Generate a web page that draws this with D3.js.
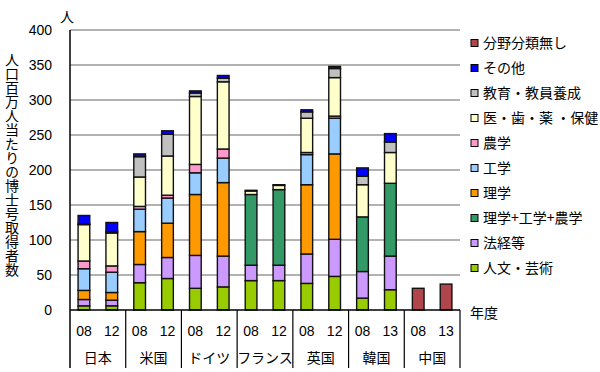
<!DOCTYPE html>
<html>
<head>
<meta charset="utf-8">
<script src="https://cdn.jsdelivr.net/npm/d3@7"></script>
<style>
  body { margin: 0; background: #fff; }
  svg text { font-family: "Liberation Sans", "Noto Sans CJK JP", sans-serif; fill: #000; }
</style>
</head>
<body>
<svg id="container" width="600" height="372"></svg>
<script>
// data: one entry per bar (country x year), stacked bottom to top
var countries = ['日本', '米国', 'ドイツ', 'フランス', '英国', '韓国', '中国'];
var years = ['08', '12', '08', '12', '08', '12', '08', '12', '08', '12', '08', '13', '08', '13'];
var yTicks = [0, 50, 100, 150, 200, 250, 300, 350, 400];

var humanities  = [6, 6, 39, 45, 31, 33, 42, 42, 38, 48, 17, 29, 0, 0];   // 人文・芸術
var lawEcon     = [9, 8, 26, 30, 47, 44, 22, 22, 42, 53, 38, 48, 0, 0];   // 法経等
var sciEngAgr   = [0, 0, 0, 0, 0, 0, 101, 108, 0, 0, 78, 104, 0, 0];     // 理学+工学+農学
var science     = [13, 11, 47, 49, 87, 105, 0, 0, 99, 122, 0, 0, 0, 0];   // 理学
var engineering = [31, 29, 32, 36, 31, 35, 0, 0, 43, 51, 0, 0, 0, 0];     // 工学
var agriculture = [11, 9, 4, 4, 12, 13, 0, 0, 3, 3, 0, 0, 0, 0];          // 農学
var health      = [52, 47, 42, 56, 97, 96, 5, 6, 49, 55, 46, 44, 0, 0];   // 医・歯・薬・保健
var education   = [1, 2, 29, 31, 5, 5, 1, 1, 9, 13, 12, 15, 0, 0];        // 教育・教員養成
var other       = [12, 13, 4, 5, 3, 4, 0, 0, 3, 3, 12, 12, 0, 0];         // その他
var unclassified = [0, 0, 0, 0, 0, 0, 0, 0, 0, 0, 0, 0, 31, 37];          // 分野分類無し

var series = [
  {key: '人文・芸術', values: humanities, color: '#99cc00'},
  {key: '法経等', values: lawEcon, color: '#cc99ff'},
  {key: '理学+工学+農学', values: sciEngAgr, color: '#339966'},
  {key: '理学', values: science, color: '#ff9900'},
  {key: '工学', values: engineering, color: '#99ccff'},
  {key: '農学', values: agriculture, color: '#ff99cc'},
  {key: '医・歯・薬 ・保健', values: health, color: '#ffffcc'},
  {key: '教育・教員養成', values: education, color: '#c0c0c0'},
  {key: 'その他', values: other, color: '#0000ff'},
  {key: '分野分類無し', values: unclassified, color: '#b0464b'}
];

// build rows for d3.stack
var rows = years.map(function(yr, i){
  var r = {i: i};
  series.forEach(function(s){ r[s.key] = s.values[i]; });
  return r;
});

var svg = d3.select('#container');
var plotLeft = 70, plotRight = 460, plotTop = 30, plotBottom = 310;

var x = d3.scaleBand().domain(d3.range(years.length)).range([plotLeft, plotRight])
    .paddingInner(0.58).paddingOuter(0.29);
var y = d3.scaleLinear().domain([0, 400]).range([plotBottom, plotTop]);
var color = d3.scaleOrdinal(series.map(s => s.key), series.map(s => s.color));

var stacked = d3.stack().keys(series.map(s => s.key))(rows);

// gridlines
svg.append('g')
  .selectAll('line')
  .data(yTicks.slice(1))
  .enter().append('line')
    .attr('x1', plotLeft).attr('x2', plotRight)
    .attr('y1', d => y(d)).attr('y2', d => y(d))
    .attr('stroke', '#999').attr('stroke-width', 1.5);

// y tick labels
svg.append('g')
  .selectAll('text')
  .data(yTicks)
  .enter().append('text')
    .attr('x', 52).attr('y', d => y(d))
    .attr('dy', '0.36em')
    .attr('text-anchor', 'end')
    .style('font-size', '14px')
    .text(d => d);

// stacked bars
svg.append('g')
  .selectAll('g')
  .data(stacked)
  .enter().append('g')
    .attr('fill', d => color(d.key))
  .selectAll('rect')
  .data(d => d.filter(p => p[1] - p[0] > 0))
  .enter().append('rect')
    .attr('x', d => x(d.data.i))
    .attr('width', x.bandwidth())
    .attr('y', d => y(d[1]))
    .attr('height', d => y(d[0]) - y(d[1]))
    .attr('stroke', '#111').attr('stroke-width', 1.4);

// axes frame: y axis line, baseline, category separators
svg.append('line')
  .attr('x1', plotLeft).attr('x2', plotLeft).attr('y1', plotTop).attr('y2', 368)
  .attr('stroke', '#000').attr('stroke-width', 1.5);
svg.append('line')
  .attr('x1', plotLeft).attr('x2', plotRight).attr('y1', plotBottom).attr('y2', plotBottom)
  .attr('stroke', '#000').attr('stroke-width', 1.5);

var groupW = (plotRight - plotLeft) / countries.length;
svg.append('g')
  .selectAll('line')
  .data(d3.range(1, countries.length + 1))
  .enter().append('line')
    .attr('x1', d => plotLeft + d * groupW).attr('x2', d => plotLeft + d * groupW)
    .attr('y1', plotBottom).attr('y2', 368)
    .attr('stroke', '#000').attr('stroke-width', 1.2);

// year labels
svg.append('g')
  .selectAll('text')
  .data(years)
  .enter().append('text')
    .attr('x', (d, i) => x(i) + x.bandwidth() / 2)
    .attr('y', 331).attr('dy', '0.36em')
    .attr('text-anchor', 'middle')
    .style('font-size', '14px')
    .text(d => d);

// country labels
svg.append('g')
  .selectAll('text')
  .data(countries)
  .enter().append('text')
    .attr('x', (d, i) => plotLeft + (i + 0.5) * groupW)
    .attr('y', 358).attr('dy', '0.36em')
    .attr('text-anchor', 'middle')
    .style('font-size', '14px')
    .style('font-family', '"Noto Sans CJK JP", sans-serif')
    .text(d => d);

// unit and axis titles
svg.append('text')
  .attr('x', 67).attr('y', 17).attr('dy', '0.36em')
  .attr('text-anchor', 'middle')
  .style('font-size', '14px')
  .style('font-family', '"Noto Sans CJK JP", sans-serif')
  .text('人');

svg.append('text')
  .attr('x', 12).attr('y', 53)
  .style('writing-mode', 'vertical-rl')
  .style('text-orientation', 'upright')
  .style('font-size', '14px')
  .style('font-family', '"Noto Sans CJK JP", sans-serif')
  .text('人口百万人当たりの博士号取得者数');

svg.append('text')
  .attr('x', 470).attr('y', 313).attr('dy', '0.36em')
  .style('font-size', '14px')
  .style('font-family', '"Noto Sans CJK JP", sans-serif')
  .text('年度');

// legend, top to bottom = reverse stack order
var legend = svg.append('g')
  .selectAll('g')
  .data(series.slice().reverse())
  .enter().append('g')
    .attr('transform', (d, i) => `translate(471, ${43 + i * 25})`);

legend.append('rect')
  .attr('x', 0).attr('y', -3.5)
  .attr('width', 7).attr('height', 7)
  .attr('fill', d => d.color)
  .attr('stroke', '#000').attr('stroke-width', 1);

legend.append('text')
  .attr('x', 12).attr('dy', '0.36em')
  .style('font-size', '14px')
  .style('font-family', '"Noto Sans CJK JP", sans-serif')
  .text(d => d.key);
</script>
</body>
</html>
